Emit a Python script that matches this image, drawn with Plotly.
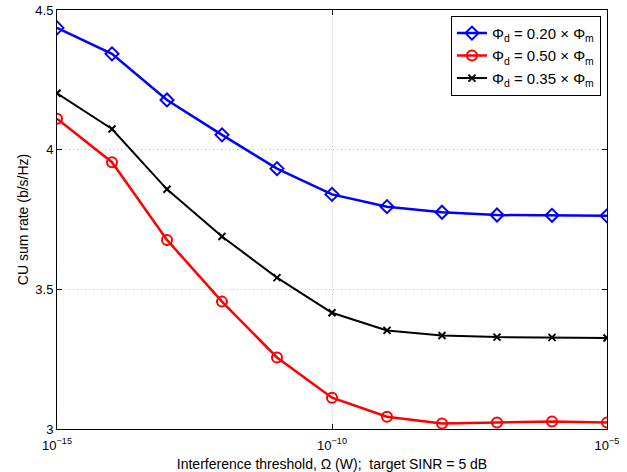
import plotly.graph_objects as go

omega = [1e-15, 1e-14, 1e-13, 1e-12, 1e-11, 1e-10, 1e-9, 1e-8, 1e-7, 1e-6, 1e-5]
rate_020 = [4.436, 4.343, 4.178, 4.053, 3.932, 3.840, 3.796, 3.776, 3.766, 3.765, 3.763]
rate_050 = [4.111, 3.955, 3.677, 3.456, 3.256, 3.112, 3.044, 3.020, 3.023, 3.027, 3.023]
rate_035 = [4.202, 4.074, 3.858, 3.689, 3.542, 3.416, 3.353, 3.335, 3.329, 3.328, 3.326]

names = ["Φ<sub>d</sub> = 0.20 × Φ<sub>m</sub>",
         "Φ<sub>d</sub> = 0.50 × Φ<sub>m</sub>",
         "Φ<sub>d</sub> = 0.35 × Φ<sub>m</sub>"]
xtick_vals = [1e-15, 1e-10, 1e-5]
xtick_text = ["10<sup>−15</sup>", "10<sup>−10</sup>", "10<sup>−5</sup>"]
ytick_vals = [3, 3.5, 4, 4.5]
ytick_text = ["3", "3.5", "4", "4.5"]

fig = go.Figure()
fig.add_trace(go.Scatter(x=omega, y=rate_020, name=names[0], mode="lines+markers",
                         line=dict(color="#0000ff", width=2.5),
                         marker=dict(symbol="diamond-open", size=10, color="#0000ff",
                                     line=dict(width=2, color="#0000ff"))))
fig.add_trace(go.Scatter(x=omega, y=rate_050, name=names[1], mode="lines+markers",
                         line=dict(color="#ff0000", width=2.5),
                         marker=dict(symbol="circle-open", size=10, color="#ff0000",
                                     line=dict(width=2, color="#ff0000"))))
fig.add_trace(go.Scatter(x=omega, y=rate_035, name=names[2], mode="lines+markers",
                         line=dict(color="#000000", width=2),
                         marker=dict(symbol="x-thin-open", size=7, color="#000000",
                                     line=dict(width=2, color="#000000"))))

axis_common = dict(showline=True, linecolor="black", linewidth=1, mirror="ticks",
                   ticks="inside", ticklen=5, tickcolor="black", automargin=False,
                   showgrid=True, gridcolor="#c0c0c0", griddash="1px,3px", gridwidth=1,
                   zeroline=False, tickfont=dict(size=13, color="black"))

fig.update_xaxes(type="log", range=[-15, -5], tickvals=xtick_vals, ticktext=xtick_text,
                 ticklabelstandoff=4,
                 title=dict(text="Interference threshold, Ω (W);  target SINR = 5 dB",
                            font=dict(size=14, color="black"), standoff=8),
                 **axis_common)
fig.update_yaxes(range=[3, 4.5], tickvals=ytick_vals, ticktext=ytick_text,
                 title=dict(text="CU sum rate (b/s/Hz)", font=dict(size=14, color="black"),
                            standoff=3),
                 **axis_common)

fig.update_layout(
    width=627, height=472,
    margin=dict(l=57, r=20, t=10, b=43),
    plot_bgcolor="white", paper_bgcolor="white",
    font=dict(family="Liberation Sans, Arial, sans-serif", color="black"),
    legend=dict(x=0.989, y=0.986, xanchor="right", yanchor="top",
                bgcolor="white", bordercolor="black", borderwidth=1,
                font=dict(size=15), tracegroupgap=0),
    showlegend=True,
)

fig.write_html("out.html", config={"displayModeBar": False},
               post_script="document.body.style.margin='0';document.body.style.overflow='hidden';")
